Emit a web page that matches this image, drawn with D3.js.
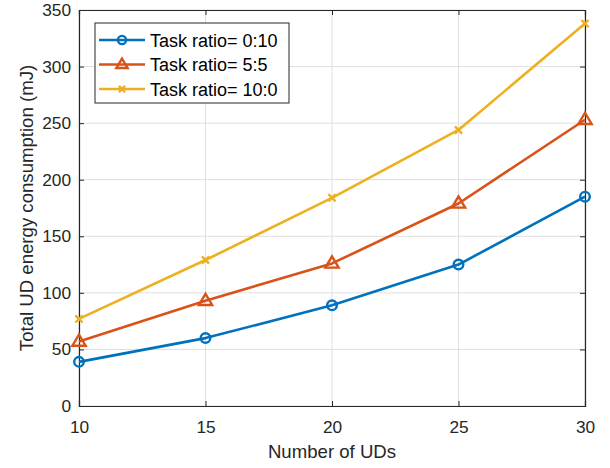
<!DOCTYPE html>
<html>
<head>
<meta charset="utf-8">
<script src="https://cdn.jsdelivr.net/npm/d3@7"></script>
<style>
  html, body { margin: 0; padding: 0; background: #fff; }
  svg { display: block; font-family: "Liberation Sans", Arial, Helvetica, sans-serif; }
</style>
</head>
<body>
<svg id="chart" width="610" height="468"></svg>
<script>
// Number of user devices on the x axis
const uds = [10, 15, 20, 25, 30];
// Total UD energy consumption (mJ) for each task ratio
const ratio0_10 = [39, 60, 89, 125, 185];
const ratio5_5 = [57, 93, 126, 179, 253];
const ratio10_0 = [77, 129, 184, 244, 338];
const seriesNames = ["Task ratio= 0:10", "Task ratio= 5:5", "Task ratio= 10:0"];
const xTicks = [10, 15, 20, 25, 30];
const yTicks = [0, 50, 100, 150, 200, 250, 300, 350];

const colors = ["#0072BD", "#D95319", "#EDB120"];
const markers = ["circle", "triangle", "cross"];
const allSeries = [ratio0_10, ratio5_5, ratio10_0];

const svg = d3.select("#chart");
const m = { left: 79, right: 585, top: 10, bottom: 406 };

const x = d3.scaleLinear().domain([10, 30]).range([m.left, m.right]);
const y = d3.scaleLinear().domain([0, 350]).range([m.bottom, m.top]);

const axisColor = "#262626";

// grid
const grid = svg.append("g");
grid.selectAll(".gx").data(xTicks).join("line")
  .attr("x1", d => x(d)).attr("x2", d => x(d))
  .attr("y1", m.top).attr("y2", m.bottom)
  .attr("stroke", "#dfdfdf").attr("stroke-width", 1);
grid.selectAll(".gy").data(yTicks).join("line")
  .attr("x1", m.left).attr("x2", m.right)
  .attr("y1", d => y(d)).attr("y2", d => y(d))
  .attr("stroke", "#dfdfdf").attr("stroke-width", 1);

// axes (inward ticks, box on)
const tickFont = 17.3;
const bottomAxis = svg.append("g").attr("transform", `translate(0,${m.bottom})`)
  .call(d3.axisBottom(x).tickValues(xTicks).tickSize(-5).tickPadding(15).tickFormat(d3.format("d")));
const topAxis = svg.append("g").attr("transform", `translate(0,${m.top})`)
  .call(d3.axisTop(x).tickValues(xTicks).tickSize(-5).tickFormat(""));
const leftAxis = svg.append("g").attr("transform", `translate(${m.left},0)`)
  .call(d3.axisLeft(y).tickValues(yTicks).tickSize(-5).tickPadding(8).tickFormat(d3.format("d")));
const rightAxis = svg.append("g").attr("transform", `translate(${m.right},0)`)
  .call(d3.axisRight(y).tickValues(yTicks).tickSize(-5).tickFormat(""));

[bottomAxis, topAxis, leftAxis, rightAxis].forEach(g => {
  g.select(".domain").attr("stroke", axisColor).attr("stroke-width", 1.2);
  g.selectAll(".tick line").attr("stroke", axisColor).attr("stroke-width", 1);
  g.selectAll(".tick text").attr("fill", axisColor)
    .style("font-size", tickFont + "px")
    .style("font-family", "'Liberation Sans', Arial, sans-serif");
});

// axis labels
svg.append("text")
  .attr("x", (m.left + m.right) / 2).attr("y", 458)
  .attr("text-anchor", "middle").attr("fill", axisColor)
  .style("font-size", "18.6px").text("Number of UDs");
svg.append("text")
  .attr("transform", `translate(33,${(m.top + m.bottom) / 2}) rotate(-90)`)
  .attr("text-anchor", "middle").attr("fill", axisColor)
  .style("font-size", "18.6px").text("Total UD energy consumption (mJ)");

// markers
function drawMarker(g, type, color, cx, cy, scale = 1) {
  if (type === "circle") {
    g.append("circle").attr("cx", cx).attr("cy", cy).attr("r", 4.8 * scale)
      .attr("fill", "none").attr("stroke", color).attr("stroke-width", 2.4);
  } else if (type === "triangle") {
    const s = 7 * scale;
    g.append("path")
      .attr("d", `M${cx},${cy - s} L${cx + s * 0.95},${cy + s * 0.6} L${cx - s * 0.95},${cy + s * 0.6} Z`)
      .attr("fill", "none").attr("stroke", color).attr("stroke-width", 2.4)
      .attr("stroke-linejoin", "miter");
  } else {
    const s = 3.6 * scale;
    g.append("path")
      .attr("d", `M${cx - s},${cy - s} L${cx + s},${cy + s} M${cx - s},${cy + s} L${cx + s},${cy - s}`)
      .attr("stroke", color).attr("stroke-width", 2.4).attr("fill", "none");
  }
}

const line = d3.line().x((d, i) => x(uds[i])).y(d => y(d));
allSeries.forEach((vals, si) => {
  const g = svg.append("g");
  g.append("path").datum(vals).attr("d", line)
    .attr("fill", "none").attr("stroke", colors[si]).attr("stroke-width", 2.6)
    .attr("stroke-linejoin", "round");
  vals.forEach((v, i) => drawMarker(g, markers[si], colors[si], x(uds[i]), y(v)));
});

// legend
const legend = svg.append("g");
legend.append("rect").attr("x", 95).attr("y", 23).attr("width", 194).attr("height", 80)
  .attr("fill", "#fff").attr("stroke", axisColor).attr("stroke-width", 1);
seriesNames.forEach((name, i) => {
  const ly = 40 + i * 24.5;
  legend.append("line").attr("x1", 99).attr("x2", 145).attr("y1", ly).attr("y2", ly)
    .attr("stroke", colors[i]).attr("stroke-width", 2.6);
  drawMarker(legend, markers[i], colors[i], 122, ly, 0.85);
  legend.append("text").attr("x", 150).attr("y", ly + 6.5)
    .attr("fill", "#000").style("font-size", "18px").text(name);
});
</script>
</body>
</html>
